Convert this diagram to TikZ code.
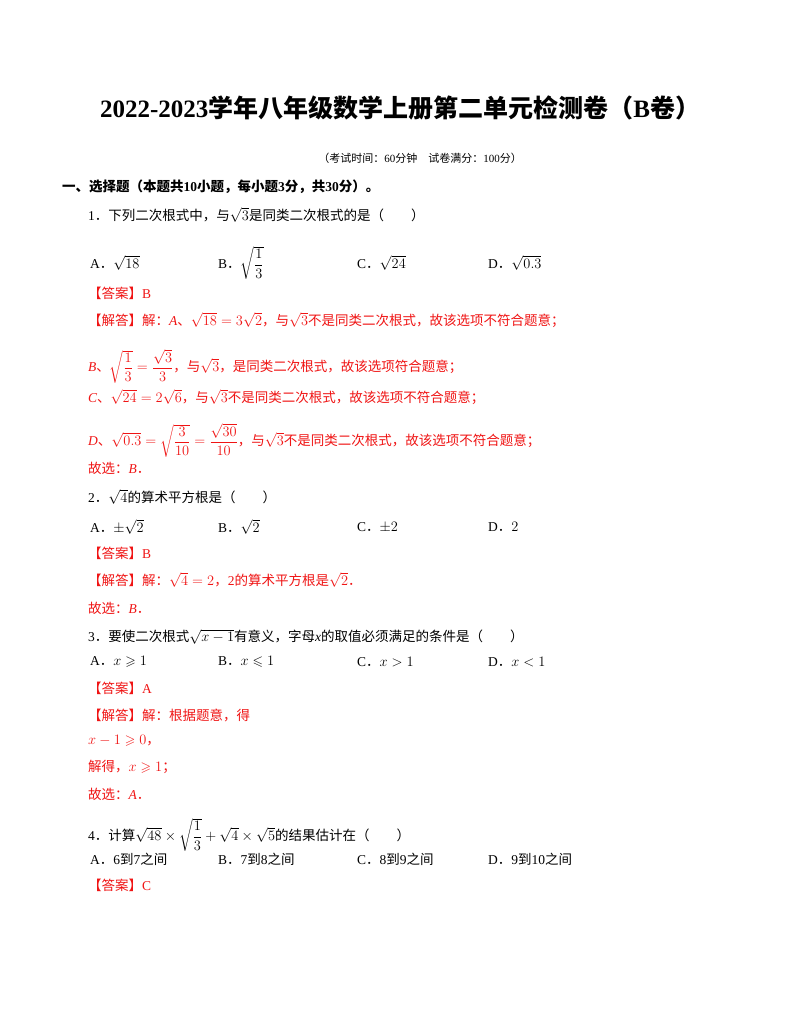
\documentclass[tikz,border=0pt]{standalone}
\usepackage{amsmath,amssymb}
\usepackage{fontspec}
\setmainfont{Noto Sans CJK SC}
\newfontfamily\lat{Liberation Serif}
\definecolor{ans}{RGB}{240,20,20}
\begin{document}
\begin{tikzpicture}[x=1pt,y=-1pt,
  t/.style={anchor=west,inner sep=0pt,font=\fontsize{13.5}{15}\selectfont},
  r/.style={t,text=ans}]
\useasboundingbox[fill=white] (0,0) rectangle (800,1035);
\node[inner sep=0pt,font=\fontsize{25}{28}\selectfont\bfseries] (title) at (400,108) {{\lat 2022-2023}学年八年级数学上册第二单元检测卷（{\lat B}卷）};
\node[inner sep=0pt,font=\fontsize{11}{13}\selectfont] (sub) at (420,158) {（考试时间：{\lat 60}分钟\quad 试卷满分：{\lat 100}分）};
\node[t,font=\fontsize{13.5}{15}\selectfont\bfseries] (s1) at (62,187) {一、选择题（本题共{\lat 10}小题，每小题{\lat 3}分，共{\lat 30}分）。};
\node[t] (q1) at (88,215) {{\lat 1}．下列二次根式中，与$\sqrt{3}$是同类二次根式的是（\qquad）};
\node[t] (q1a) at (90,263) {{\lat A}．$\sqrt{18}$};
\node[t] (q1b) at (218,263) {{\lat B}．$\sqrt{\dfrac{1}{3}}$};
\node[t] (q1c) at (357,263) {{\lat C}．$\sqrt{24}$};
\node[t] (q1d) at (488,263) {{\lat D}．$\sqrt{0.3}$};
\node[r] (a1) at (88,293) {【答案】{\lat B}};
\node[r] (e1) at (88,320) {【解答】解：{\lat\itshape A}、$\sqrt{18}=3\sqrt{2}$，与$\sqrt{3}$不是同类二次根式，故该选项不符合题意；};
\node[r] (e1b) at (88,366) {{\lat\itshape B}、$\sqrt{\dfrac{1}{3}}=\dfrac{\sqrt{3}}{3}$，与$\sqrt{3}$，是同类二次根式，故该选项符合题意；};
\node[r] (e1c) at (88,397) {{\lat\itshape C}、$\sqrt{24}=2\sqrt{6}$，与$\sqrt{3}$不是同类二次根式，故该选项不符合题意；};
\node[r] (e1d) at (88,440) {{\lat\itshape D}、$\sqrt{0.3}=\sqrt{\dfrac{3}{10}}=\dfrac{\sqrt{30}}{10}$，与$\sqrt{3}$不是同类二次根式，故该选项不符合题意；};
\node[r] (g1) at (88,468) {故选：{\lat\itshape B}．};
\node[t] (q2) at (88,497) {{\lat 2}．$\sqrt{4}$的算术平方根是（\qquad）};
\node[t] (q2a) at (90,527) {{\lat A}．$\pm\sqrt{2}$};
\node[t] (q2b) at (218,527) {{\lat B}．$\sqrt{2}$};
\node[t] (q2c) at (357,527) {{\lat C}．$\pm 2$};
\node[t] (q2d) at (488,527) {{\lat D}．$2$};
\node[r] (a2) at (88,553) {【答案】{\lat B}};
\node[r] (e2) at (88,580) {【解答】解：$\sqrt{4}=2$，{\lat 2}的算术平方根是$\sqrt{2}$．};
\node[r] (g2) at (88,608) {故选：{\lat\itshape B}．};
\node[t] (q3) at (88,637) {{\lat 3}．要使二次根式$\sqrt{x-1}$有意义，字母{\lat\itshape x}的取值必须满足的条件是（\qquad）};
\node[t] (q3a) at (90,662) {{\lat A}．$x\geqslant 1$};
\node[t] (q3b) at (218,662) {{\lat B}．$x\leqslant 1$};
\node[t] (q3c) at (357,662) {{\lat C}．$x>1$};
\node[t] (q3d) at (488,662) {{\lat D}．$x<1$};
\node[r] (a3) at (88,688) {【答案】{\lat A}};
\node[r] (e3) at (88,715) {【解答】解：根据题意，得};
\node[r] (e3b) at (88,741) {$x-1\geqslant 0$，};
\node[r] (e3c) at (88,767) {解得，$x\geqslant 1$；};
\node[r] (g3) at (88,794) {故选：{\lat\itshape A}．};
\node[t] (q4) at (88,835) {{\lat 4}．计算$\sqrt{48}\times\sqrt{\dfrac{1}{3}}+\sqrt{4}\times\sqrt{5}$的结果估计在（\qquad）};
\node[t] (q4a) at (90,859) {{\lat A}．{\lat 6}到{\lat 7}之间};
\node[t] (q4b) at (218,859) {{\lat B}．{\lat 7}到{\lat 8}之间};
\node[t] (q4c) at (357,859) {{\lat C}．{\lat 8}到{\lat 9}之间};
\node[t] (q4d) at (488,859) {{\lat D}．{\lat 9}到{\lat 10}之间};
\node[r] (a4) at (88,885) {【答案】{\lat C}};
\end{tikzpicture}
\end{document}
